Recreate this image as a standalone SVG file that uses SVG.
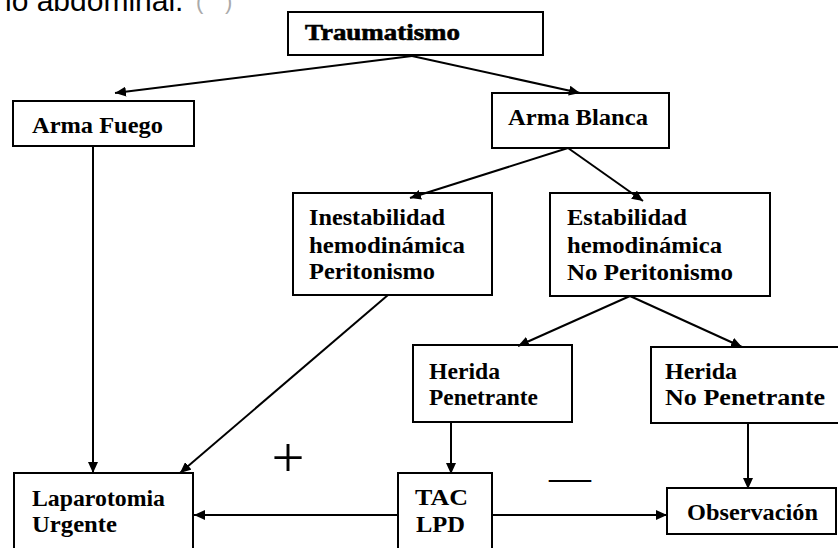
<svg xmlns="http://www.w3.org/2000/svg" width="838" height="548" viewBox="0 0 838 548">
<style>
.box{fill:#fff;stroke:#000;stroke-width:2}
.t{font-family:"Liberation Serif","Times New Roman",serif;font-size:23px;font-weight:bold;fill:#000}
.c{fill:none;stroke:#000;stroke-width:2}
</style>
<defs>
<marker id="ah" markerUnits="userSpaceOnUse" markerWidth="12" markerHeight="10" refX="11" refY="5" orient="auto">
<path d="M0,0 L11,5 L0,10 Z" fill="#000"/>
</marker>
</defs>
<rect width="838" height="548" fill="#fff"/>
<text x="5" y="11" font-family="Liberation Sans, Arial, sans-serif" font-size="30" fill="#000">lo abdominal.</text>
<text x="196" y="9" font-family="Liberation Sans, Arial, sans-serif" font-size="22" fill="#aaa">(</text>
<text x="225" y="9" font-family="Liberation Sans, Arial, sans-serif" font-size="22" fill="#aaa">)</text>

<g id="traumatismo">
<rect class="box" x="288" y="12" width="255" height="43"/>
<text class="t" x="305" y="40" font-size="19" stroke="#000" stroke-width="0.6" textLength="155" lengthAdjust="spacingAndGlyphs">Traumatismo</text>
</g>
<g id="arma-fuego">
<rect class="box" x="13" y="101" width="181" height="45"/>
<text class="t" x="32" y="133" textLength="131" lengthAdjust="spacingAndGlyphs">Arma Fuego</text>
</g>
<g id="arma-blanca">
<rect class="box" x="492" y="93" width="177" height="55"/>
<text class="t" x="508" y="125" textLength="140" lengthAdjust="spacingAndGlyphs">Arma Blanca</text>
</g>
<g id="inestabilidad">
<rect class="box" x="293" y="193" width="199" height="102"/>
<text class="t" x="309" y="225" textLength="136" lengthAdjust="spacingAndGlyphs">Inestabilidad</text>
<text class="t" x="309" y="253" textLength="156" lengthAdjust="spacingAndGlyphs">hemodinámica</text>
<text class="t" x="309" y="279" textLength="126" lengthAdjust="spacingAndGlyphs">Peritonismo</text>
</g>
<g id="estabilidad">
<rect class="box" x="550" y="193" width="220" height="103"/>
<text class="t" x="567" y="225" textLength="120" lengthAdjust="spacingAndGlyphs">Estabilidad</text>
<text class="t" x="567" y="253" textLength="155" lengthAdjust="spacingAndGlyphs">hemodinámica</text>
<text class="t" x="567" y="280" textLength="166" lengthAdjust="spacingAndGlyphs">No Peritonismo</text>
</g>
<g id="herida-penetrante">
<rect class="box" x="413" y="345" width="159" height="77"/>
<text class="t" x="429" y="379" textLength="71" lengthAdjust="spacingAndGlyphs">Herida</text>
<text class="t" x="429" y="405" textLength="109" lengthAdjust="spacingAndGlyphs">Penetrante</text>
</g>
<g id="herida-no-penetrante">
<rect class="box" x="651" y="347" width="200" height="76"/>
<text class="t" x="665" y="379" textLength="72" lengthAdjust="spacingAndGlyphs">Herida</text>
<text class="t" x="665" y="405" textLength="160" lengthAdjust="spacingAndGlyphs">No Penetrante</text>
</g>
<g id="laparotomia">
<rect class="box" x="14" y="473" width="179" height="100"/>
<text class="t" x="32" y="506" textLength="133" lengthAdjust="spacingAndGlyphs">Laparotomia</text>
<text class="t" x="32" y="532" textLength="85" lengthAdjust="spacingAndGlyphs">Urgente</text>
</g>
<g id="tac-lpd">
<rect class="box" x="398" y="473" width="94" height="100"/>
<text class="t" x="415" y="505" textLength="53" lengthAdjust="spacingAndGlyphs">TAC</text>
<text class="t" x="416" y="532" textLength="49" lengthAdjust="spacingAndGlyphs">LPD</text>
</g>
<g id="observacion">
<rect class="box" x="667" y="488" width="169" height="46"/>
<text class="t" x="687" y="520" textLength="131" lengthAdjust="spacingAndGlyphs">Observación</text>
</g>

<g id="connectors">
<line class="c" x1="412" y1="56" x2="115" y2="93" marker-end="url(#ah)"/>
<line class="c" x1="412" y1="56" x2="580" y2="93" marker-end="url(#ah)"/>
<line class="c" x1="568" y1="148" x2="410" y2="198" marker-end="url(#ah)"/>
<line class="c" x1="568" y1="148" x2="643" y2="201" marker-end="url(#ah)"/>
<line class="c" x1="93" y1="146" x2="93" y2="473" marker-end="url(#ah)"/>
<line class="c" x1="388" y1="295" x2="180" y2="473" marker-end="url(#ah)"/>
<line class="c" x1="630" y1="296" x2="518" y2="346" marker-end="url(#ah)"/>
<line class="c" x1="630" y1="296" x2="742" y2="347" marker-end="url(#ah)"/>
<line class="c" x1="451" y1="422" x2="451" y2="474" marker-end="url(#ah)"/>
<line class="c" x1="748" y1="423" x2="748" y2="489" marker-end="url(#ah)"/>
<line class="c" x1="398" y1="515" x2="194" y2="515" marker-end="url(#ah)"/>
<line class="c" x1="492" y1="515" x2="667" y2="515" marker-end="url(#ah)"/>
</g>

<g id="signs">
<text x="288" y="477" text-anchor="middle" font-family="Liberation Serif, serif" font-size="56" fill="#000" textLength="33" lengthAdjust="spacingAndGlyphs">+</text>
<text x="549" y="491" font-family="Liberation Serif, serif" font-size="42" fill="#000" textLength="42" lengthAdjust="spacingAndGlyphs">—</text>
</g>
</svg>
